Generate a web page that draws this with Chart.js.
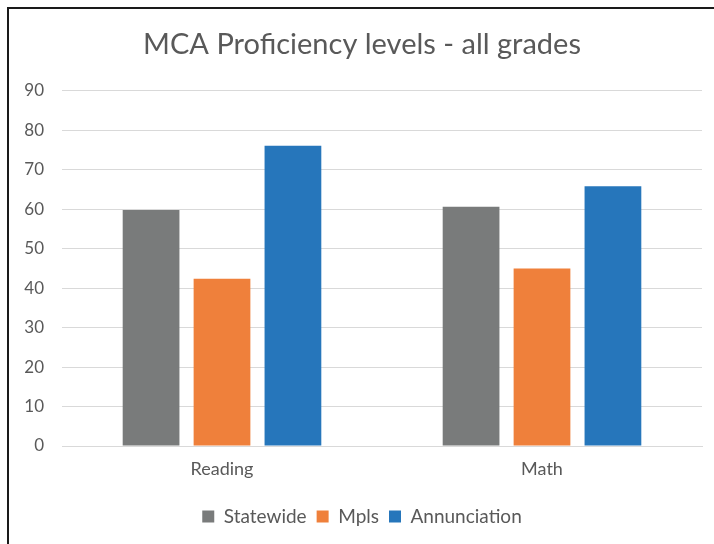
<!DOCTYPE html>
<html>
<head>
<meta charset="utf-8">
<script src="https://cdn.jsdelivr.net/npm/chart.js@4"></script>
<style>
html,body{margin:0;padding:0;background:#fff;}
#wrap{position:relative;width:714px;height:544px;overflow:hidden;}
#frameL{position:absolute;left:7px;top:7px;width:2px;height:537px;background:#1a1a1a;}
#frameT{position:absolute;left:7px;top:7px;width:707px;height:2px;background:#1a1a1a;}
canvas{position:absolute;left:0;top:0;}
</style>
</head>
<body>
<div id="wrap">
<canvas id="c" width="714" height="544"></canvas>
<div id="frameL"></div>
<div id="frameT"></div>
</div>
<script>
const categories = ["Reading", "Math"];
const statewide = [59.8, 60.6];
const mpls = [42.4, 45.0];
const annunciation = [76.1, 65.8];
const seriesNames = ["Statewide", "Mpls", "Annunciation"];
const chartTitle = "MCA Proficiency levels - all grades";

const txt = "#595959";
const fam = "Lato, 'Open Sans', sans-serif";

new Chart(document.getElementById("c"), {
  type: "bar",
  data: {
    labels: categories,
    datasets: [
      {label: seriesNames[0], data: statewide, backgroundColor: "#797b7b"},
      {label: seriesNames[1], data: mpls, backgroundColor: "#ef803b"},
      {label: seriesNames[2], data: annunciation, backgroundColor: "#2676bb"}
    ]
  },
  options: {
    responsive: false,
    animation: false,
    layout: {padding: {left: 22, right: 12, top: 0, bottom: 8}},
    datasets: {bar: {categoryPercentage: 0.665, barPercentage: 0.8}},
    plugins: {
      title: {display: true, text: chartTitle, color: txt,
        font: {family: fam, size: 29, weight: "normal"},
        padding: {top: 27, bottom: 29}},
      legend: {position: "bottom",
        labels: {color: txt, font: {family: fam, size: 19}, boxWidth: 12, boxHeight: 12, padding: 10}},
      tooltip: {enabled: false}
    },
    scales: {
      x: {
        grid: {display: false, drawTicks: false},
        border: {display: true, color: "#d9d9d9", width: 1},
        ticks: {color: txt, font: {family: fam, size: 18}, padding: 12},
        afterFit: (s) => { s.height = 51; }
      },
      y: {
        min: 0, max: 90,
        grid: {color: "#d9d9d9", drawTicks: false},
        border: {display: false},
        ticks: {stepSize: 10, color: txt, font: {family: fam, size: 17}, padding: 18},
        afterFit: (s) => { s.width = 40; }
      }
    }
  }
});
</script>
</body>
</html>
